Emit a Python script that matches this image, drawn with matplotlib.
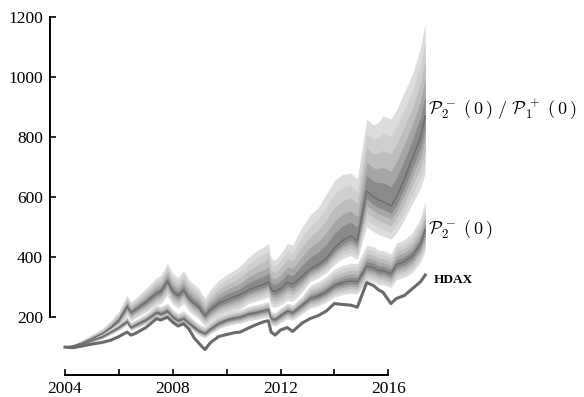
import matplotlib
matplotlib.use("Agg")
import matplotlib.pyplot as plt
import numpy as np

plt.rcParams['font.family'] = ['Liberation Serif', 'DejaVu Serif']
plt.rcParams['mathtext.fontset'] = 'cm'

# Zeitachse (Dezimaljahre)
t = [2004.0, 2004.3, 2004.6, 2005.0, 2005.4, 2005.7, 2006.0, 2006.3, 2006.45, 2006.6,
     2007.0, 2007.4, 2007.55, 2007.8, 2008.0, 2008.2, 2008.4, 2008.6, 2008.8, 2008.95,
     2009.1, 2009.2, 2009.4, 2009.7, 2010.0, 2010.3, 2010.5, 2010.8, 2011.1, 2011.4,
     2011.55, 2011.65, 2011.8, 2012.0, 2012.25, 2012.45, 2012.8, 2013.1, 2013.4, 2013.7,
     2014.0, 2014.3, 2014.6, 2014.85, 2015.2, 2015.45, 2015.65, 2015.8, 2016.1, 2016.3,
     2016.6, 2016.9, 2017.2, 2017.37]

# HDAX (normiert auf 100)
hdax = [100, 98, 103, 110, 116, 123, 135, 150, 140, 145,
        165, 195, 190, 200, 183, 170, 178, 160, 130, 115,
        100, 92, 115, 135, 142, 148, 150, 163, 175, 185,
        188, 150, 140, 157, 165, 152, 180, 195, 205, 220,
        245, 242, 240, 233, 315, 305, 290, 283, 245, 262,
        272, 295, 318, 340]

# Strategie P2-(0): Median und Bandgrenzen
p2_med = [100, 102, 108, 122, 135, 150, 165, 185, 165, 172,
          190, 215, 210, 220, 200, 188, 195, 180, 165, 155,
          148, 145, 160, 178, 190, 197, 200, 210, 215, 222,
          225, 195, 192, 205, 220, 215, 240, 262, 270, 285,
          305, 315, 320, 318, 370, 365, 355, 355, 345, 375,
          385, 405, 445, 490]
p2_hi = [100, 105, 113, 130, 145, 162, 180, 203, 182, 190,
         211, 240, 235, 247, 225, 212, 221, 205, 189, 178,
         171, 168, 186, 205, 213, 221, 224, 235, 241, 248,
         252, 218, 215, 230, 246, 241, 269, 306, 318, 336,
         360, 372, 380, 378, 440, 434, 422, 422, 410, 446,
         458, 482, 530, 585]
p2_lo = [100, 99, 104, 116, 128, 142, 156, 174, 155, 161,
         177, 200, 195, 204, 185, 173, 179, 165, 151, 141,
         134, 131, 144, 160, 171, 177, 179, 188, 192, 198,
         200, 173, 170, 181, 194, 189, 211, 230, 237, 250,
         267, 275, 279, 277, 322, 317, 308, 308, 298, 324,
         332, 349, 383, 420]

# Strategie P2-(0) / P1+(0): Median und Bandgrenzen
mix_med = [100, 104, 112, 128, 145, 165, 190, 235, 215, 225,
           250, 280, 285, 320, 285, 272, 290, 262, 245, 235,
           215, 205, 225, 245, 258, 268, 275, 290, 300, 310,
           318, 290, 285, 295, 315, 310, 335, 360, 375, 395,
           430, 455, 470, 455, 620, 600, 590, 585, 570, 600,
           660, 730, 800, 870]
mix_hi = [100, 108, 122, 142, 163, 188, 220, 272, 250, 262,
          295, 332, 338, 380, 345, 332, 355, 325, 308, 298,
          275, 265, 292, 322, 342, 357, 370, 398, 420, 435,
          445, 395, 390, 410, 445, 440, 500, 540, 565, 610,
          655, 675, 680, 660, 860, 840, 850, 870, 860, 890,
          950, 1010, 1100, 1180]
mix_lo = [100, 100, 105, 117, 130, 147, 168, 205, 188, 196,
          216, 240, 244, 272, 242, 230, 245, 220, 205, 196,
          178, 170, 186, 202, 212, 220, 226, 245, 253, 262,
          268, 236, 232, 240, 256, 252, 282, 318, 330, 348,
          375, 395, 405, 392, 500, 485, 475, 470, 460, 480,
          525, 580, 630, 680]


def fan(ax, x, med, lo, hi):
    """Faecher aus geschachtelten Grauflaechen um den Median."""
    x = np.asarray(x)
    med, lo, hi = np.asarray(med), np.asarray(lo), np.asarray(hi)
    stufen = [1.0, 0.8, 0.6, 0.4, 0.22]
    grau = ['#dcdcdc', '#cfcfcf', '#bdbdbd', '#a6a6a6', '#8a8a8a']
    for s, c in zip(stufen, grau):
        ax.fill_between(x, med - s * (med - lo), med + s * (hi - med),
                        color=c, lw=0)
    ax.plot(x, med, color='#6e6e6e', lw=1.1)


fig = plt.figure(figsize=(5.84, 3.97), dpi=100)
ax = fig.add_axes([50 / 584, 22 / 397, 380 / 584, 358 / 397])

fan(ax, t, mix_med, mix_lo, mix_hi)
fan(ax, t, p2_med, p2_lo, p2_hi)
ax.plot(t, hdax, color='#6a6a6a', lw=2.2)

# Beschriftung an den Linienenden
ax.text(2017.48, 890, r'$\mathcal{P}_2^{\,-}\ (\,0\,)\ /\ \mathcal{P}_1^{\,+}\ (\,0\,)$',
        fontsize=13, va='center', ha='left', clip_on=False)
ax.text(2017.48, 490, r'$\mathcal{P}_2^{\,-}\ (\,0\,)$',
        fontsize=13, va='center', ha='left', clip_on=False)
ax.text(2017.7, 322, 'HDAX', fontsize=9.5, fontweight='bold', va='center', ha='left',
        clip_on=False)

ax.set_xlim(2004 - 15 / 26.94, 2004 + 365 / 26.94)
ax.set_ylim(7, 1200)

for side in ['top', 'right']:
    ax.spines[side].set_visible(False)
ax.spines['left'].set_bounds(200, 1200)
ax.spines['bottom'].set_bounds(2004, 2016)
ax.spines['left'].set_linewidth(1.4)
ax.spines['bottom'].set_linewidth(1.4)

ax.set_yticks([200, 400, 600, 800, 1000, 1200])
ax.set_xticks([2004, 2006, 2008, 2010, 2012, 2014, 2016])
ax.set_xticklabels(['2004', '', '2008', '', '2012', '', '2016'])
ax.tick_params(direction='in', length=4, width=1.2, labelsize=12.5)
ax.tick_params(axis='y', pad=5)
ax.tick_params(axis='x', pad=4)

fig.savefig('out.png', dpi=100)
